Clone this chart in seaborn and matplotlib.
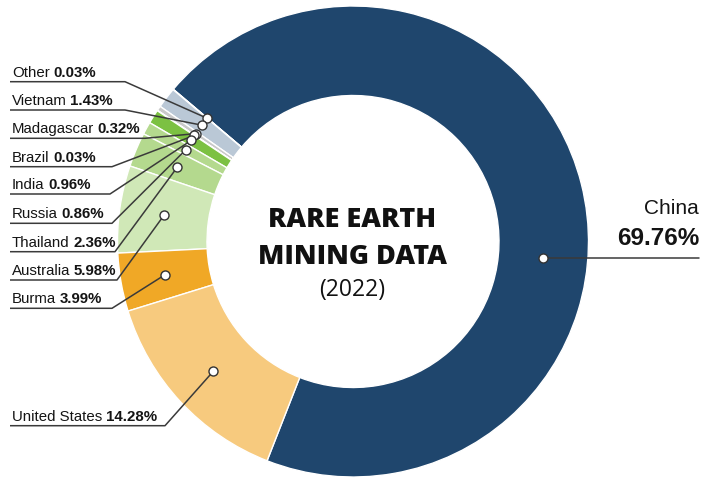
import numpy as np
import matplotlib
matplotlib.use("Agg")
import matplotlib.pyplot as plt
import seaborn as sns

# ---- data ----
countries = ["China", "Other", "Vietnam", "Madagascar", "Brazil", "India",
             "Russia", "Thailand", "Australia", "Burma", "United States"]
shares = [69.76, 0.03, 1.43, 0.32, 0.03, 0.96, 0.86, 2.36, 5.98, 3.99, 14.28]
slice_colors = ["#1f466d", "#c0ccd9", "#bac8d6", "#c9c9c9", "#8a8a8a", "#7cc142",
                "#b4d98e", "#b4d98e", "#d0e8b7", "#f0a826", "#f7ca7e"]
title_lines = ["RARE EARTH", "MINING DATA"]
subtitle = "(2022)"

# ---- layout (pixels) ----
W, H = 718, 478
CX, CY = 353, H - 241.5
R_OUT, RING = 235.5, 89.5
START = 248.6
left_line_y = [81.7, 110, 138.3, 166.7, 194, 223.3, 251.7, 280, 308.3, 425.7]
left_x_end = [125, 125, 145, 112, 110, 112, 115, 117, 112, 165]
china_angle = -5.0

sns.set_theme(style="white")
plt.rcParams["font.family"] = ["Liberation Sans", "DejaVu Sans"]

fig = plt.figure(figsize=(W / 100, H / 100), dpi=100)
ax = fig.add_axes([0, 0, 1, 1])
wedges, _ = ax.pie(shares, colors=slice_colors, startangle=START, counterclock=True,
                   radius=R_OUT, center=(CX, CY), frame=True,
                   wedgeprops=dict(width=RING, edgecolor="white", linewidth=1.0))
ax.set_xlim(0, W)
ax.set_ylim(0, H)
ax.set_aspect("equal")
ax.axis("off")

r_mid = R_OUT - RING / 2
line_col = "#3a3a3a"
txt_col = "#141414"

# left-hand labels
for i, (name, val) in enumerate(zip(countries[1:], shares[1:])):
    wdg = wedges[i + 1]
    a = np.deg2rad((wdg.theta1 + wdg.theta2) / 2)
    dx, dy = CX + r_mid * np.cos(a), CY + r_mid * np.sin(a)
    ly = H - left_line_y[i]
    ax.plot([10, left_x_end[i], dx], [ly, ly, dy], color=line_col, lw=1.1,
            solid_capstyle="butt", zorder=4)
    ax.plot([dx], [dy], marker="o", ms=6.5, mfc="white", mec="#333333", mew=1.0, zorder=5)
    t = ax.text(12, ly + 5, name, fontsize=10.8, color=txt_col, va="baseline", ha="left")
    ax.annotate(f"{val:.2f}%", xy=(1, 0), xycoords=t, xytext=(2.6, 0),
                textcoords="offset points", va="bottom", ha="left",
                fontsize=10.8, weight="bold", color=txt_col)

# China label
a = np.deg2rad(china_angle)
dx, dy = CX + r_mid * np.cos(a), CY + r_mid * np.sin(a)
ax.plot([dx, 699], [dy, dy], color=line_col, lw=1.1, zorder=4)
ax.plot([dx], [dy], marker="o", ms=6.5, mfc="white", mec="#333333", mew=1.0, zorder=5)
ax.text(699, H - 208, countries[0], ha="right", va="center", fontsize=15, color=txt_col)
ax.text(699, H - 238, f"{shares[0]:.2f}%", ha="right", va="center", fontsize=17.5,
        weight="bold", color=txt_col)

# centre title
tf = ["Open Sans", "DejaVu Sans"]
ax.text(352, H - 220, title_lines[0], ha="center", va="center", fontsize=19.5,
        weight="heavy", family=tf, color="#111111")
ax.text(352, H - 256.5, title_lines[1], ha="center", va="center", fontsize=19.5,
        weight="heavy", family=tf, color="#111111")
ax.text(352, H - 290, subtitle, ha="center", va="center", fontsize=16.5,
        family=tf, color="#111111")

fig.savefig("out.png", dpi=100, facecolor="white")
